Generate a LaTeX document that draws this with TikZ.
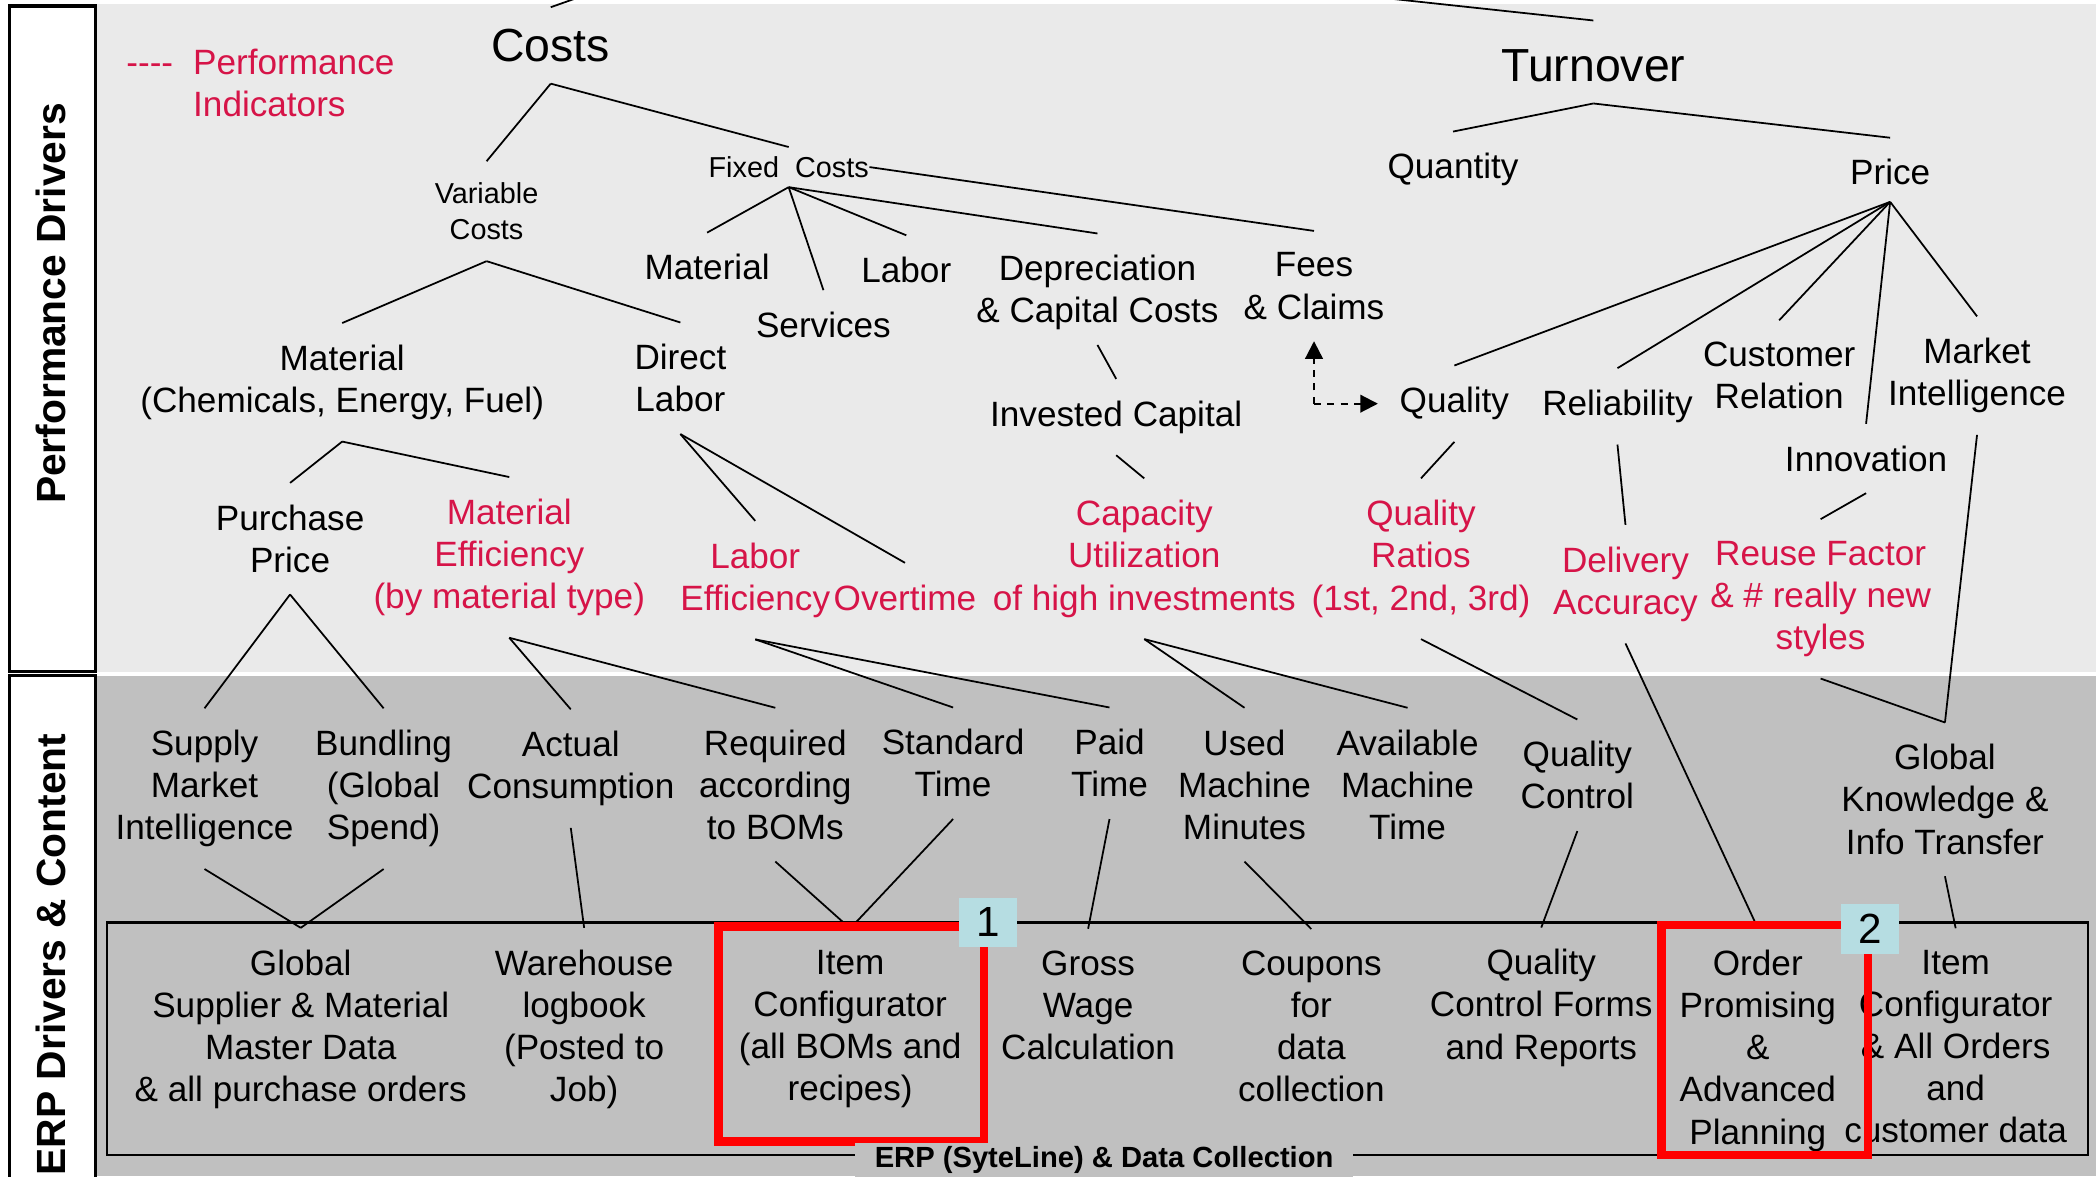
\documentclass[tikz,border=0pt]{standalone}
\usepackage{fontspec}
\setmainfont{Liberation Sans}
\usetikzlibrary{arrows.meta}
\definecolor{topgray}{RGB}{234,234,234}
\definecolor{lowgray}{RGB}{192,192,192}
\definecolor{indred}{RGB}{214,20,72}
\definecolor{numteal}{RGB}{182,221,226}
\begin{document}
\begin{tikzpicture}[x=0.13367mm,y=-0.13367mm,
        drv/.style={font=\fontsize{10}{12}\selectfont,align=center,inner sep=6pt},
        ind/.style={drv,text=indred},
        smalldrv/.style={font=\fontsize{8.2}{10}\selectfont,align=center,inner sep=6pt},
        bigdrv/.style={font=\fontsize{13.2}{16}\selectfont,inner sep=6pt},
        tree/.style={line width=0.5pt},
        side/.style={rotate=90,font=\fontsize{11.6}{14}\bfseries\selectfont},
        sidebox/.style={draw,line width=1pt,fill=white},
        redframe/.style={draw=red,line width=2.4pt},
        numbox/.style={fill=numteal,minimum width=16.3pt,minimum height=14.1pt,inner sep=0pt,font=\fontsize{12}{14}\selectfont},
        dasharrow/.style={line width=0.6pt,dash pattern=on 2pt off 1.8pt,-{Triangle[length=5pt,width=5pt]}}]
        \useasboundingbox (0,0) rectangle (1568,880);
        \fill[topgray] (71.5,3) rectangle (1568,503);
        \fill[lowgray] (71.5,505.5) rectangle (1568,880);
        \draw[sidebox] (7,4.5) rectangle (71.5,502.5);
        \draw[sidebox] (7,505.5) rectangle (71.5,895);
        \node[side] (pdlabel) at (38,227) {Performance Drivers};
        \node[side] (erplabel) at (38,714) {ERP Drivers \& Content};
        \draw[line width=0.8pt] (80,690) rectangle (1562,864);

        \node[bigdrv] (costs) at (412,34) {Costs};
        \node[bigdrv] (turnover) at (1192,49) {Turnover};
        \node[ind,anchor=base west,inner sep=0pt] (dashes) at (94,56) {-{}-{}-{}-};
        \node[ind,anchor=west,align=left,inner sep=0pt] (legend) at (144,62) {Performance\\Indicators};
        \node[smalldrv] (varcosts) at (364,158) {Variable\\Costs};
        \node[smalldrv,inner sep=2.5pt] (fixed) at (590,125) {Fixed~~Costs};
        \node[drv] (matfix) at (529,200) {Material};
        \node[drv] (labor) at (678,202) {Labor};
        \node[drv] (services) at (616,243) {Services};
        \node[drv] (deprec) at (821,219) {Depreciation\\\& Capital Costs};
        \node[drv] (fees) at (983,214) {Fees\\\& Claims};
        \node[drv] (quantity) at (1087,127) {Quantity};
        \node[drv] (price) at (1414,129) {Price};
        \node[drv] (matchem) at (256,286) {Material\\(Chemicals, Energy, Fuel)};
        \node[drv] (direct) at (509,283) {Direct\\Labor};
        \node[drv] (invested) at (835,312) {Invested Capital};
        \node[drv] (quality) at (1088,302) {Quality};
        \node[drv] (reliab) at (1210,304) {Reliability};
        \node[drv] (customer) at (1331,281) {Customer\\Relation};
        \node[drv] (market) at (1479,281) {Market\\Intelligence};
        \node[drv] (innovation) at (1396,343) {Innovation};
        \node[drv] (purchase) at (217,403) {Purchase\\Price};
        \node[ind] (mateff) at (381,417) {Material\\Efficiency\\(by material type)};
        \node[ind] (labeff) at (565,434) {Labor\\Efficiency};
        \node[ind] (overtime) at (677,447) {Overtime};
        \node[ind] (capacity) at (856,418) {Capacity\\Utilization\\of high investments};
        \node[ind] (qratios) at (1063,418) {Quality\\Ratios\\(1st, 2nd, 3rd)};
        \node[ind] (delivery) at (1216,437) {Delivery\\Accuracy};
        \node[ind] (reuse) at (1362,448) {Reuse Factor\\\& \# really new\\styles};

        \node[drv] (supply) at (153,590) {Supply\\Market\\Intelligence};
        \node[drv] (bundling) at (287,590) {Bundling\\(Global\\Spend)};
        \node[drv] (actual) at (427,575) {Actual\\Consumption};
        \node[drv] (required) at (580,587) {Required\\according\\to BOMs};
        \node[drv] (standard) at (713,571) {Standard\\Time};
        \node[drv] (paid) at (830,571) {Paid\\Time};
        \node[drv] (used) at (931,587) {Used\\Machine\\Minutes};
        \node[drv] (available) at (1053,587) {Available\\Machine\\Time};
        \node[drv] (qcontrol) at (1180,580) {Quality\\Control};
        \node[drv] (knowledge) at (1455,598) {Global\\Knowledge \&\\Info Transfer};

        \node[drv] (globalsup) at (225,770) {Global\\Supplier \& Material\\Master Data\\\& all purchase orders};
        \node[drv] (warehouse) at (437,770) {Warehouse\\logbook\\(Posted to\\Job)};
        \node[drv] (itemconf) at (636,770) {Item\\Configurator\\(all BOMs and\\recipes)};
        \node[drv] (grosswage) at (814,752) {Gross\\Wage\\Calculation};
        \node[drv] (coupons) at (981,768) {Coupons\\for\\data\\collection};
        \node[drv] (qcforms) at (1153,754) {Quality\\Control Forms\\and Reports};
        \node[drv] (orderprom) at (1315,786) {Order\\Promising\\\&\\Advanced\\Planning};
        \node[drv] (itemconf2) at (1463,783) {Item\\Configurator\\\& All Orders\\and\\customer data};

        \coordinate (costtop) at (433,-2);
        \coordinate (turntop) at (1040,-1);
        \draw[tree] (costs.north) -- (costtop);
        \draw[tree] ([yshift=2pt]turnover.north) -- (turntop);
        \draw[tree] (costs.south) -- (varcosts.north);
        \draw[tree] (costs.south) -- (fixed.north);
        \draw[tree] (fixed.south) -- (matfix.north);
        \draw[tree] (fixed.south) -- (services.north);
        \draw[tree] (fixed.south) -- (labor.north);
        \draw[tree] (fixed.south) -- (deprec.north);
        \draw[tree] ([xshift=-2.5pt]fixed.east) -- (fees.north);
        \draw[tree] (varcosts.south) -- (matchem.north);
        \draw[tree] (varcosts.south) -- (direct.north);
        \draw[tree] (matchem.south) -- (purchase.north);
        \draw[tree] (matchem.south) -- (mateff.north);
        \draw[tree] (direct.south) -- (labeff.north);
        \draw[tree] (direct.south) -- (overtime.north);
        \draw[tree] ([yshift=2pt]deprec.south) -- (invested.north);
        \draw[tree] (invested.south) -- (capacity.north);
        \draw[tree] (turnover.south) -- (quantity.north);
        \draw[tree] (turnover.south) -- (price.north);
        \draw[tree] ([yshift=1.5pt]price.south) -- (quality.north);
        \draw[tree] ([yshift=1.5pt]price.south) -- (reliab.north);
        \draw[tree] ([yshift=1.5pt]price.south) -- (customer.north);
        \draw[tree] ([yshift=1.5pt]price.south) -- (innovation.north);
        \draw[tree] ([yshift=1.5pt]price.south) -- (market.north);
        \draw[tree] (quality.south) -- (qratios.north);
        \draw[tree] (reliab.south) -- (delivery.north);
        \draw[tree] (innovation.south) -- (reuse.north);
        \draw[tree] (market.south) -- (knowledge.north);
        \draw[tree] (reuse.south) -- (knowledge.north);
        \coordinate (bend) at (fees.south |- quality.west);
        \draw[dasharrow] (bend) -- (fees.south);
        \draw[dasharrow] (bend) -- (quality.west);

        \draw[tree] (purchase.south) -- (supply.north);
        \draw[tree] (purchase.south) -- (bundling.north);
        \draw[tree] (mateff.south) -- (actual.north);
        \draw[tree] (mateff.south) -- (required.north);
        \draw[tree] (labeff.south) -- (standard.north);
        \draw[tree] (labeff.south) -- (paid.north);
        \draw[tree] (capacity.south) -- (used.north);
        \draw[tree] (capacity.south) -- (available.north);
        \draw[tree] (qratios.south) -- (qcontrol.north);
        \draw[tree] (delivery.south) -- (orderprom.north);
        \draw[tree] (supply.south) -- (globalsup.north);
        \draw[tree] (bundling.south) -- (globalsup.north);
        \draw[tree] (actual.south) -- (warehouse.north);
        \draw[tree] (required.south) -- (itemconf.north);
        \draw[tree] (standard.south) -- (itemconf.north);
        \draw[tree] (paid.south) -- (grosswage.north);
        \draw[tree] (used.south) -- (coupons.north);
        \draw[tree] (qcontrol.south) -- (qcforms.north);
        \draw[tree] (knowledge.south) -- (itemconf2.north);

        \draw[redframe] (537.5,693) rectangle (736,854);
        \draw[redframe] (1243,692) rectangle (1397.5,864);
        \node[numbox] (num1) at (739,690) {1};
        \node[numbox] (num2) at (1399,695) {2};
        \node[fill=lowgray,inner xsep=5.5pt,inner ysep=1pt,font=\fontsize{8.3}{10}\bfseries\selectfont] (erp) at (826,868) {ERP (SyteLine) \& Data Collection};
    \end{tikzpicture}
\end{document}
